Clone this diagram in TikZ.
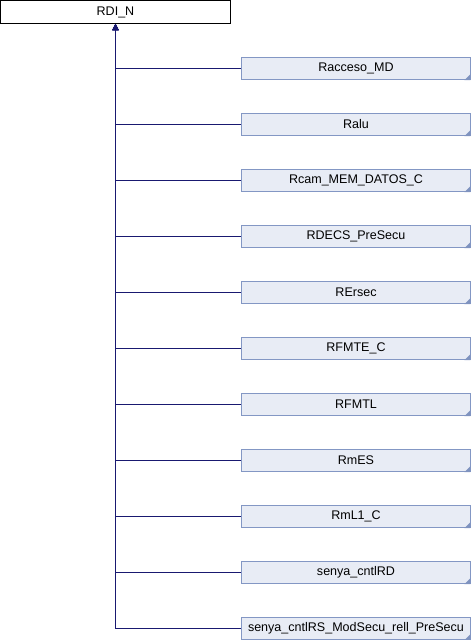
\documentclass[tikz,border=0pt]{standalone}
\usepackage{fontspec}
\setmainfont{Liberation Sans}
\usetikzlibrary{arrows.meta}
\definecolor{edgeblue}{HTML}{191970}
\definecolor{boxfill}{HTML}{E8ECF5}
\definecolor{boxline}{HTML}{8397C4}
\definecolor{cornerc}{HTML}{7F93BF}
\tikzset{
  rootbox/.style={draw=black, fill=white, line width=0.75pt, minimum width=172.5pt, minimum height=17.25pt, inner sep=0pt, font=\fontsize{9.4pt}{11pt}\selectfont},
  childbox/.style={draw=boxline, fill=boxfill, line width=0.75pt, minimum width=171.75pt, minimum height=16.5pt, inner sep=0pt, font=\fontsize{9.4pt}{11pt}\selectfont},
  link/.style={draw=edgeblue, line width=0.75pt, {Triangle[width=4.5pt,length=4.5pt]}-},
}
\begin{document}
\begin{tikzpicture}[x=0.75pt,y=-0.75pt]
\useasboundingbox (0,0) rectangle (472,640);
\node[rootbox] (root) at (115.5,12) {RDI\_N};
\foreach \n/\t [count=\k from 0] in {c1/Racceso\_MD, c2/Ralu, c3/Rcam\_MEM\_DATOS\_C, c4/RDECS\_PreSecu, c5/RErsec, c6/RFMTE\_C, c7/RFMTL, c8/RmES, c9/RmL1\_C, c10/senya\_cntlRD, c11/senya\_cntlRS\_ModSecu\_rell\_PreSecu}{
  \node[childbox] (\n) at (356,68+56*\k) {\t};
  \fill[cornerc] ([shift={(-0.4pt,-0.4pt)}]\n.north east |- \n.south east) ++(0,0) -- ++(-4.5pt,0) -- ++(4.5pt,4.5pt) -- cycle;
  \draw[link] (root.south -| 115.5,0) |- (\n.west);
}
\end{tikzpicture}
\end{document}
